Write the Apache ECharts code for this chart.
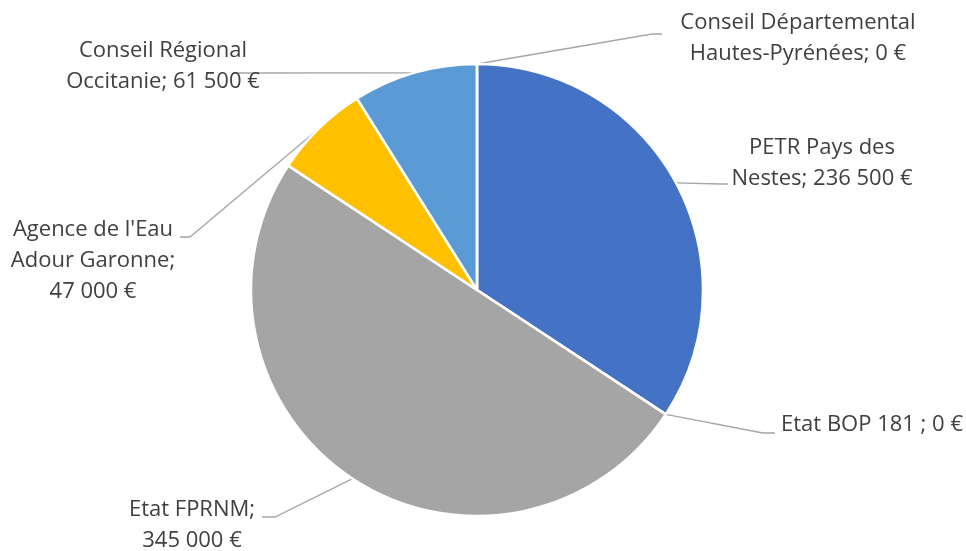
<!DOCTYPE html>
<html>
<head>
<meta charset="utf-8">
<script src="https://cdn.jsdelivr.net/npm/echarts@6/dist/echarts.min.js"></script>
<style>html,body{margin:0;padding:0;background:#fff}#c{width:966px;height:551px}</style>
</head>
<body>
<div id="c"></div>
<script>
// Data
const categories = ['PETR Pays des\nNestes', 'Etat BOP 181 ', 'Etat FPRNM', "Agence de l'Eau\nAdour Garonne", 'Conseil Régional\nOccitanie', 'Conseil Départemental\nHautes-Pyrénées'];
const values = [236500, 0, 345000, 47000, 61500, 0];
const valueSeparators = [' ', ' ', '\n', '\n', ' ', ' '];
const colors = ['#4472C4', '#ED7D31', '#A5A5A5', '#FFC000', '#5B9BD5', '#70AD47'];

// Label placement (style/layout only)
const labelCenters = [[822, 163], [872, 425], [192, 525], [93, 261], [163, 66], [798, 38]];
const leaderElbows = [[720, 184], [763, 433], [275, 517], [190, 237], [240, 73], [652, 34]];
const leaderEnds = [[728, 184], [775, 433], [262, 517], [180, 237], [233, 73], [662, 34]];

function fmt(v) {
  return String(v).replace(/\B(?=(\d{3})+(?!\d))/g, ' ') + ' €';
}

const chart = echarts.init(document.getElementById('c'), null, {renderer: 'canvas'});
chart.setOption({
  animation: false,
  backgroundColor: '#ffffff',
  series: [{
    type: 'pie',
    center: [477, 290],
    radius: 226,
    startAngle: 90,
    clockwise: true,
    avoidLabelOverlap: false,
    minShowLabelAngle: 0,
    itemStyle: {borderColor: '#ffffff', borderWidth: 2.5},
    label: {
      show: true,
      position: 'outside',
      color: '#404040',
      fontFamily: 'Open Sans',
      fontSize: 22,
      lineHeight: 31,
      formatter: function (p) {
        return p.name + ';' + valueSeparators[p.dataIndex] + fmt(p.value);
      }
    },
    labelLine: {show: true, lineStyle: {color: '#A6A6A6', width: 1.3}},
    labelLayout: function (p) {
      const i = p.dataIndex;
      const start = p.labelLinePoints ? [p.labelLinePoints[0][0], p.labelLinePoints[0][1]] : leaderElbows[i];
      return {
        x: labelCenters[i][0],
        y: labelCenters[i][1],
        align: 'center',
        verticalAlign: 'middle',
        labelLinePoints: [start, leaderElbows[i], leaderEnds[i]]
      };
    },
    data: categories.map((n, i) => ({name: n, value: values[i], itemStyle: {color: colors[i]}, label: {align: 'center'}}))
  }]
});
</script>
</body>
</html>
